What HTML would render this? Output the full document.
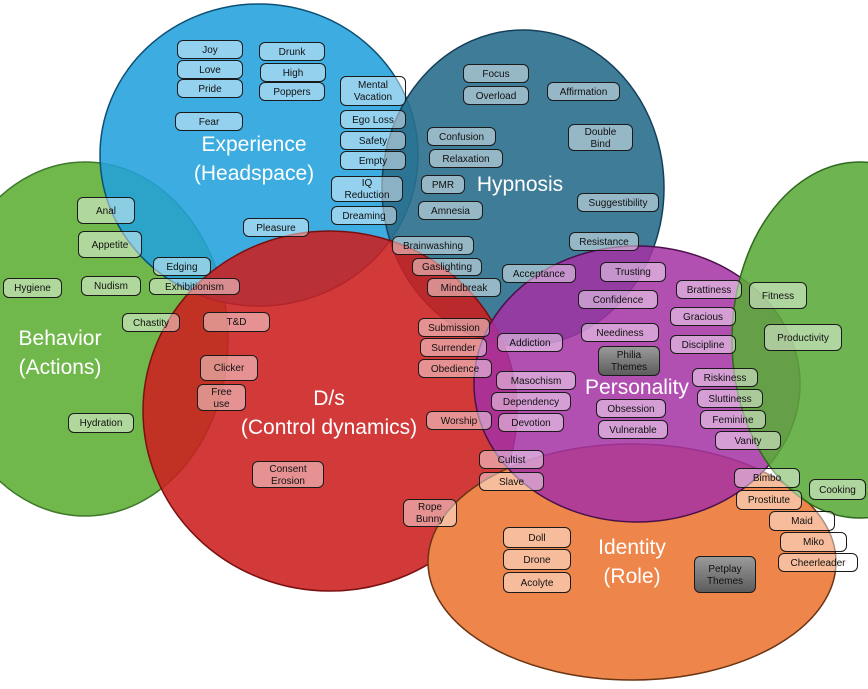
<!DOCTYPE html>
<html><head><meta charset="utf-8"><style>
body{margin:0;width:868px;height:689px;overflow:hidden;background:#fff;font-family:"Liberation Sans",sans-serif;position:relative}
svg{position:absolute;left:0;top:0}
.l{position:absolute;box-sizing:border-box;border:1px solid #1a1a1a;border-radius:6px;background:rgba(255,255,255,0.45);font-size:10px;color:#111;display:flex;align-items:center;justify-content:center;text-align:center;line-height:12px;padding-top:2px}
.g{background:linear-gradient(#9a9a9a,#5c5c5c);color:#111}
.b{position:absolute;color:#fff;font-size:21px;text-align:center;line-height:29px;transform:translateX(-50%);white-space:nowrap}
</style></head><body>
<svg width="868" height="689">
<ellipse cx="85" cy="339" rx="143" ry="177" fill="#70b84c" stroke="#3f7a2a" stroke-width="1.5"/>
<ellipse cx="259" cy="155" rx="159" ry="151" fill="#22a0dc" fill-opacity="0.88" stroke="#0d4f75" stroke-width="1.5"/>
<ellipse cx="523" cy="188" rx="141" ry="158" fill="#2a6e8c" fill-opacity="0.9" stroke="#15405a" stroke-width="1.5"/>
<ellipse cx="330" cy="411" rx="187" ry="180" fill="#cc1f1f" fill-opacity="0.88" stroke="#7a1010" stroke-width="1.5"/>
<ellipse cx="632" cy="562" rx="204" ry="118" fill="#ee854a" stroke="#6a3515" stroke-width="1.5"/>
<ellipse cx="637" cy="384" rx="163" ry="138" fill="#a431a4" fill-opacity="0.85" stroke="#4a104a" stroke-width="1.5"/>
<ellipse cx="860" cy="340" rx="128" ry="178" fill="#5aaa38" fill-opacity="0.88" stroke="#2e6a1c" stroke-width="1.5"/>
</svg>
<div class="b" style="left:254px;top:130px">Experience<br>(Headspace)</div>
<div class="b" style="left:520px;top:170px">Hypnosis</div>
<div class="b" style="left:60px;top:324px">Behavior<br>(Actions)</div>
<div class="b" style="left:329px;top:384px">D/s<br>(Control dynamics)</div>
<div class="b" style="left:637px;top:373px">Personality</div>
<div class="b" style="left:632px;top:533px">Identity<br>(Role)</div>

<div class="l" style="left:177px;top:40px;width:66px;height:19px">Joy</div>
<div class="l" style="left:177px;top:60px;width:66px;height:19px">Love</div>
<div class="l" style="left:177px;top:79px;width:66px;height:19px">Pride</div>
<div class="l" style="left:259px;top:42px;width:66px;height:19px">Drunk</div>
<div class="l" style="left:260px;top:63px;width:66px;height:19px">High</div>
<div class="l" style="left:259px;top:82px;width:66px;height:19px">Poppers</div>
<div class="l" style="left:340px;top:76px;width:66px;height:30px">Mental<br>Vacation</div>
<div class="l" style="left:340px;top:110px;width:66px;height:19px">Ego Loss</div>
<div class="l" style="left:340px;top:131px;width:66px;height:19px">Safety</div>
<div class="l" style="left:340px;top:151px;width:66px;height:19px">Empty</div>
<div class="l" style="left:331px;top:176px;width:72px;height:26px">IQ<br>Reduction</div>
<div class="l" style="left:331px;top:206px;width:66px;height:19px">Dreaming</div>
<div class="l" style="left:175px;top:112px;width:68px;height:19px">Fear</div>
<div class="l" style="left:243px;top:218px;width:66px;height:19px">Pleasure</div>

<div class="l" style="left:463px;top:64px;width:66px;height:19px">Focus</div>
<div class="l" style="left:463px;top:86px;width:66px;height:19px">Overload</div>
<div class="l" style="left:547px;top:82px;width:73px;height:19px">Affirmation</div>
<div class="l" style="left:427px;top:127px;width:69px;height:19px">Confusion</div>
<div class="l" style="left:429px;top:149px;width:74px;height:19px">Relaxation</div>
<div class="l" style="left:568px;top:124px;width:65px;height:27px">Double<br>Bind</div>
<div class="l" style="left:421px;top:175px;width:44px;height:19px">PMR</div>
<div class="l" style="left:418px;top:201px;width:65px;height:19px">Amnesia</div>
<div class="l" style="left:577px;top:193px;width:82px;height:19px">Suggestibility</div>
<div class="l" style="left:569px;top:232px;width:70px;height:19px">Resistance</div>
<div class="l" style="left:392px;top:236px;width:82px;height:19px">Brainwashing</div>
<div class="l" style="left:412px;top:258px;width:70px;height:18px">Gaslighting</div>
<div class="l" style="left:427px;top:278px;width:74px;height:19px">Mindbreak</div>
<div class="l" style="left:502px;top:264px;width:74px;height:19px">Acceptance</div>

<div class="l" style="left:600px;top:262px;width:66px;height:20px">Trusting</div>
<div class="l" style="left:578px;top:290px;width:80px;height:19px">Confidence</div>
<div class="l" style="left:676px;top:280px;width:66px;height:19px">Brattiness</div>
<div class="l" style="left:670px;top:307px;width:66px;height:19px">Gracious</div>
<div class="l" style="left:670px;top:335px;width:66px;height:19px">Discipline</div>
<div class="l" style="left:581px;top:323px;width:78px;height:19px">Neediness</div>
<div class="l g" style="left:598px;top:346px;width:62px;height:30px">Philia<br>Themes</div>
<div class="l" style="left:497px;top:333px;width:66px;height:19px">Addiction</div>
<div class="l" style="left:496px;top:371px;width:80px;height:19px">Masochism</div>
<div class="l" style="left:491px;top:392px;width:80px;height:19px">Dependency</div>
<div class="l" style="left:498px;top:413px;width:66px;height:19px">Devotion</div>
<div class="l" style="left:596px;top:399px;width:70px;height:19px">Obsession</div>
<div class="l" style="left:598px;top:420px;width:70px;height:19px">Vulnerable</div>
<div class="l" style="left:692px;top:368px;width:66px;height:19px">Riskiness</div>
<div class="l" style="left:697px;top:389px;width:66px;height:19px">Sluttiness</div>
<div class="l" style="left:700px;top:410px;width:66px;height:19px">Feminine</div>
<div class="l" style="left:715px;top:431px;width:66px;height:19px">Vanity</div>

<div class="l" style="left:418px;top:318px;width:72px;height:19px">Submission</div>
<div class="l" style="left:420px;top:338px;width:67px;height:19px">Surrender</div>
<div class="l" style="left:418px;top:359px;width:74px;height:19px">Obedience</div>
<div class="l" style="left:426px;top:411px;width:66px;height:19px">Worship</div>
<div class="l" style="left:479px;top:450px;width:65px;height:19px">Cultist</div>
<div class="l" style="left:479px;top:472px;width:65px;height:19px">Slave</div>
<div class="l" style="left:403px;top:499px;width:54px;height:28px">Rope<br>Bunny</div>
<div class="l" style="left:252px;top:461px;width:72px;height:27px">Consent<br>Erosion</div>
<div class="l" style="left:200px;top:355px;width:58px;height:26px">Clicker</div>
<div class="l" style="left:197px;top:384px;width:49px;height:27px">Free<br>use</div>
<div class="l" style="left:203px;top:312px;width:67px;height:20px">T&amp;D</div>
<div class="l" style="left:149px;top:278px;width:91px;height:17px">Exhibitionism</div>
<div class="l" style="left:153px;top:257px;width:58px;height:19px">Edging</div>

<div class="l" style="left:77px;top:197px;width:58px;height:27px">Anal</div>
<div class="l" style="left:78px;top:231px;width:64px;height:27px">Appetite</div>
<div class="l" style="left:3px;top:278px;width:59px;height:20px">Hygiene</div>
<div class="l" style="left:81px;top:276px;width:60px;height:20px">Nudism</div>
<div class="l" style="left:122px;top:313px;width:58px;height:19px">Chastity</div>
<div class="l" style="left:68px;top:413px;width:66px;height:20px">Hydration</div>

<div class="l" style="left:749px;top:282px;width:58px;height:27px">Fitness</div>
<div class="l" style="left:764px;top:324px;width:78px;height:27px">Productivity</div>
<div class="l" style="left:809px;top:479px;width:57px;height:21px">Cooking</div>

<div class="l" style="left:734px;top:468px;width:66px;height:20px">Bimbo</div>
<div class="l" style="left:736px;top:490px;width:66px;height:20px">Prostitute</div>
<div class="l" style="left:769px;top:511px;width:66px;height:20px">Maid</div>
<div class="l" style="left:780px;top:532px;width:67px;height:20px">Miko</div>
<div class="l" style="left:778px;top:553px;width:80px;height:19px">Cheerleader</div>
<div class="l" style="left:503px;top:527px;width:68px;height:21px">Doll</div>
<div class="l" style="left:503px;top:549px;width:68px;height:21px">Drone</div>
<div class="l" style="left:503px;top:572px;width:68px;height:21px">Acolyte</div>
<div class="l g" style="left:694px;top:556px;width:62px;height:37px">Petplay<br>Themes</div>
</body></html>
